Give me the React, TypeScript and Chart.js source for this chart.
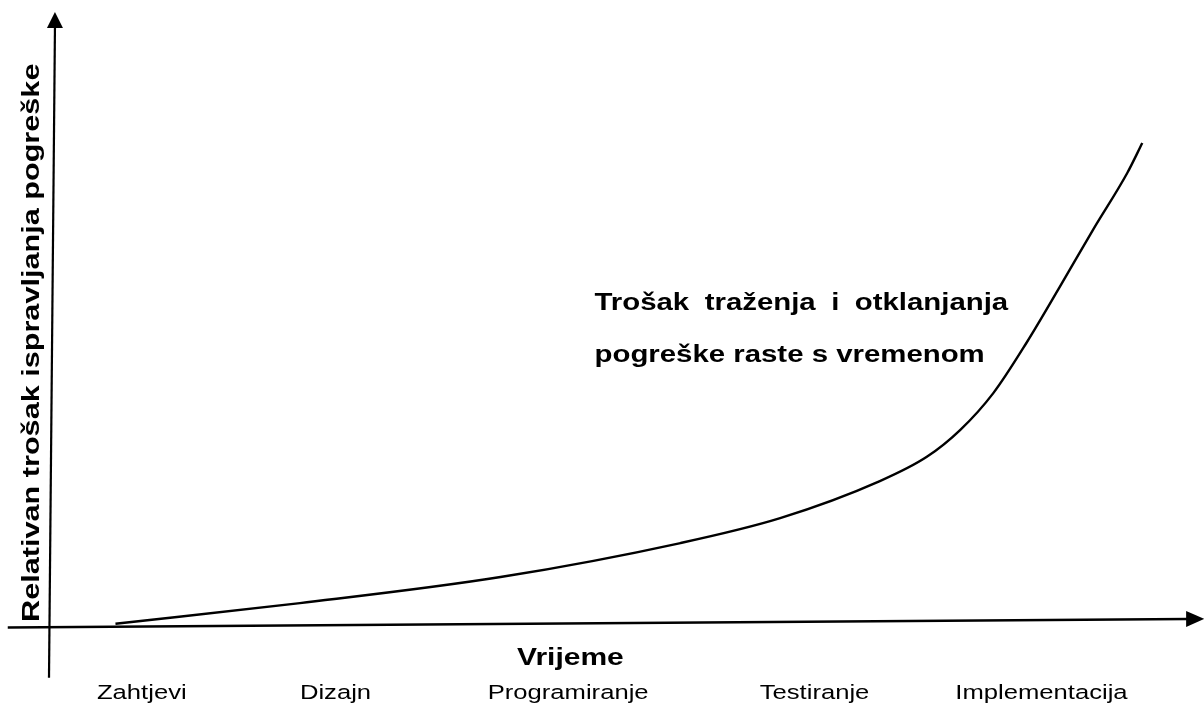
import React, { useEffect, useRef } from "react";
import { Chart, registerables } from "chart.js";

Chart.register(...registerables);

// ---- data ----
const timeValues = [5.8, 21.9, 39.4, 55.1, 63.8, 72.5, 76.6, 79.5, 82.4, 85.3, 88.2, 91.1, 94.1, 95.4];
const costValues = [0.2, 3.6, 7.9, 13.5, 17.6, 23.7, 27.7, 32.1, 38.2, 46.5, 55.7, 65.1, 74.5, 79.4];
const stageLabels = ["Zahtjevi", "Dizajn", "Programiranje", "Testiranje", "Implementacija"];
const stagePositions = [8.1, 25.0, 45.3, 66.8, 86.6];
const xTitle = "Vrijeme";
const yTitle = "Relativan trošak ispravljanja pogreške";
const noteLines = ["Trošak traženja i otklanjanja", "pogreške raste s vremenom"];

const FONT = "'Liberation Sans', Arial, sans-serif";
const STRETCH = 1.25;

function stretchedText(ctx: CanvasRenderingContext2D, text: string, x: number, y: number, align: CanvasTextAlign) {
  ctx.save();
  ctx.translate(x, y);
  ctx.scale(STRETCH, 1);
  ctx.textAlign = align;
  ctx.textBaseline = "alphabetic";
  ctx.fillText(text, 0, 0);
  ctx.restore();
}

const diagramPlugin = {
  id: "diagram",
  afterDatasetsDraw(chart: any) {
    const ctx: CanvasRenderingContext2D = chart.ctx;
    const xs = chart.scales.x;
    const ys = chart.scales.y;
    const px = (v: number) => xs.getPixelForValue(v);
    const py = (v: number) => ys.getPixelForValue(v);
    ctx.save();
    ctx.strokeStyle = "#000";
    ctx.fillStyle = "#000";

    // x axis (slightly tilted, as in the original sketch)
    ctx.lineWidth = 2.6;
    const xa0 = { x: px(-3.6), y: py(-0.4) };
    const xa1 = { x: px(99.4), y: py(1.0) };
    ctx.beginPath();
    ctx.moveTo(xa0.x, xa0.y);
    ctx.lineTo(xa1.x, xa1.y);
    ctx.stroke();
    const tipX = px(100.8);
    ctx.beginPath();
    ctx.moveTo(tipX, xa1.y);
    ctx.lineTo(xa1.x - 2, xa1.y - 8);
    ctx.lineTo(xa1.x - 2, xa1.y + 8);
    ctx.closePath();
    ctx.fill();

    // y axis
    ctx.lineWidth = 2.2;
    const ya0 = { x: px(0), y: py(-8.7) };
    const ya1 = { x: px(0.52), y: py(98.5) };
    ctx.beginPath();
    ctx.moveTo(ya0.x, ya0.y);
    ctx.lineTo(ya1.x, ya1.y);
    ctx.stroke();
    const tipY = py(101);
    ctx.beginPath();
    ctx.moveTo(ya1.x, tipY);
    ctx.lineTo(ya1.x - 8, ya1.y + 1);
    ctx.lineTo(ya1.x + 8, ya1.y + 1);
    ctx.closePath();
    ctx.fill();

    // stage labels
    ctx.font = `20.5px ${FONT}`;
    stageLabels.forEach((lab, i) => {
      stretchedText(ctx, lab, px(stagePositions[i]), py(-12.2), "center");
    });

    // x title
    ctx.font = `bold 24px ${FONT}`;
    stretchedText(ctx, xTitle, px(45.5), py(-6.6), "center");

    // y title (rotated)
    ctx.save();
    ctx.translate(39, (py(0) + py(93)) / 2);
    ctx.rotate(-Math.PI / 2);
    ctx.font = `bold 24.5px ${FONT}`;
    stretchedText(ctx, yTitle, 0, 0, "center");
    ctx.restore();

    // annotation (first line justified to the width of the block)
    ctx.font = `bold 23.5px ${FONT}`;
    const left = px(47.6);
    const right = px(83.7);
    const words = noteLines[0].split(" ");
    const widths = words.map((w) => ctx.measureText(w).width * STRETCH);
    const total = widths.reduce((a, b) => a + b, 0);
    const gap = (right - left - total) / (words.length - 1);
    let cx = left;
    words.forEach((w, i) => {
      stretchedText(ctx, w, cx, py(51.9), "left");
      cx += widths[i] + gap;
    });
    stretchedText(ctx, noteLines[1], left, py(43.3), "left");

    ctx.restore();
  },
};

export default function App() {
  const ref = useRef<HTMLCanvasElement | null>(null);
  useEffect(() => {
    if (!ref.current) return;
    const chart = new Chart(ref.current, {
      type: "line",
      data: {
        datasets: [
          {
            data: timeValues.map((t, i) => ({ x: t, y: costValues[i] })),
            borderColor: "#000",
            borderWidth: 2.4,
            pointRadius: 0,
            cubicInterpolationMode: "monotone",
            fill: false,
            clip: false as any,
          },
        ],
      },
      options: {
        animation: false,
        responsive: false,
        events: [],
        layout: { autoPadding: false, padding: { left: 49, right: 9, top: 18, bottom: 79 } },
        plugins: { legend: { display: false }, tooltip: { enabled: false }, title: { display: false } },
        scales: {
          x: { type: "linear", min: 0, max: 100, display: false },
          y: { type: "linear", min: 0, max: 100, display: false },
        },
      },
      plugins: [diagramPlugin],
    });
    return () => chart.destroy();
  }, []);
  return (
    <div style={{ position: "fixed", left: 0, top: 0, width: 1204, height: 704, background: "#fff" }}>
      <canvas ref={ref} width={1204} height={704} />
    </div>
  );
}
